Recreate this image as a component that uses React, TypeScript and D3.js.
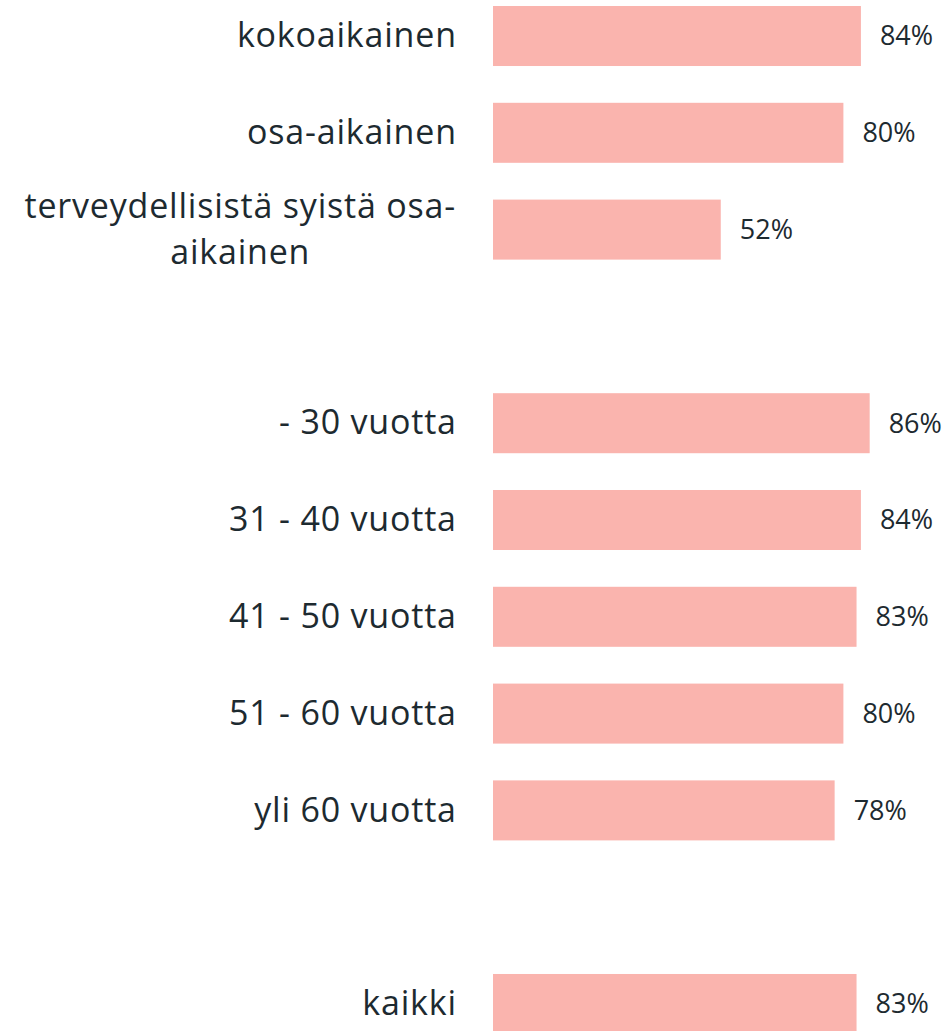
import { useMemo } from "react";
import * as d3 from "d3";

// null rows are the blank spacers between groups
const categories: (string | null)[] = [
  "kokoaikainen",
  "osa-aikainen",
  "terveydellisistä syistä osa-|aikainen",
  null,
  "- 30 vuotta",
  "31 - 40 vuotta",
  "41 - 50 vuotta",
  "51 - 60 vuotta",
  "yli 60 vuotta",
  null,
  "kaikki",
];
const values: (number | null)[] = [84, 80, 52, null, 86, 84, 83, 80, 78, null, 83];

const width = 949;
const height = 1031;
const barLeft = 493;
const labelRight = 456;
const font = "'Open Sans', sans-serif";
const labelSize = 34;
const labelSpacing = 0.8;
const valueSize = 27;
const textColor = "#1d2a30";
const barColor = "#fab4ae";

function measure(text: string, size: number): number {
  const ctx = document.createElement("canvas").getContext("2d");
  if (!ctx) return text.length * size * 0.5;
  ctx.font = `${size}px ${font}`;
  return ctx.measureText(text).width + text.length * labelSpacing;
}

export default function App() {
  const rows = categories.map((c, i) => ({ key: String(i), label: c, value: values[i] }));

  const y = d3
    .scaleBand<string>()
    .domain(rows.map((d) => d.key))
    .range([6, 1034])
    .paddingInner(0.38)
    .paddingOuter(0);

  const x = d3.scaleLinear().domain([0, 100]).range([barLeft, barLeft + 438]);

  const lineWidths = useMemo(
    () =>
      rows.map((r) =>
        r.label ? r.label.split("|").map((l) => measure(l, labelSize)) : [],
      ),
    [],
  );

  return (
    <div style={{ position: "absolute", left: 0, top: 0 }}>
      <svg width={width} height={height} style={{ display: "block" }}>
        <rect width={width} height={height} fill="#ffffff" />
        {rows.map((r, i) => {
          if (r.label === null || r.value === null) return null;
          const top = y(r.key)!;
          const cy = top + y.bandwidth() / 2;
          const lines = r.label.split("|");
          const widths = lineWidths[i];
          const blockW = Math.max(...widths);
          const lineH = 46;
          return (
            <g key={r.key}>
              <rect
                x={x(0)}
                y={top}
                width={x(r.value) - x(0)}
                height={y.bandwidth()}
                fill={barColor}
              />
              {lines.map((l, j) => (
                <text
                  key={j}
                  x={lines.length > 1 ? labelRight - blockW / 2 : labelRight + labelSpacing}
                  y={cy + (j - (lines.length - 1) / 2) * lineH}
                  dy="0.33em"
                  textAnchor={lines.length > 1 ? "middle" : "end"}
                  fontFamily={font}
                  fontSize={labelSize}
                  letterSpacing={labelSpacing}
                  fill={textColor}
                >
                  {l}
                </text>
              ))}
              <text
                x={x(r.value) + 19}
                y={cy}
                dy="0.35em"
                fontFamily={font}
                fontSize={valueSize}
                fill={textColor}
              >
                {r.value}%
              </text>
            </g>
          );
        })}
      </svg>
    </div>
  );
}
